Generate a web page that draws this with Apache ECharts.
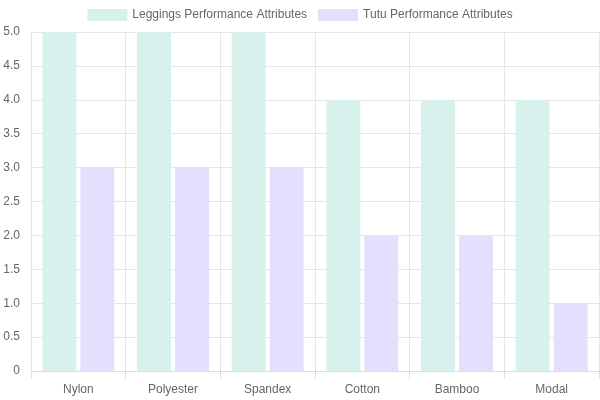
<!DOCTYPE html>
<html><head><meta charset="utf-8">
<script src="https://cdn.jsdelivr.net/npm/echarts@6/dist/echarts.min.js"></script>
<style>html,body{margin:0;padding:0;background:#fff}#c{width:600px;height:400px}</style>
</head><body><div id="c"></div>
<script>
const categories = ['Nylon','Polyester','Spandex','Cotton','Bamboo','Modal'];
const leggings = [5,5,5,4,4,4];
const tutu = [3,3,3,2,2,1];
const seriesNames = ['Leggings Performance Attributes','Tutu Performance Attributes'];

const chart = echarts.init(document.getElementById('c'), null, {renderer:'canvas'});
const font = 'Liberation Sans, Arial, Helvetica, sans-serif';
chart.setOption({
  animation:false,
  textStyle:{fontFamily:font},
  legend:{
    top:4, left:'center', itemWidth:40, itemHeight:12, itemGap:11,
    textStyle:{color:'#666', fontSize:12, fontFamily:font},
    icon:'rect',
    data:seriesNames
  },
  grid:{left:31, right:1, top:32, bottom:29, containLabel:false},
  xAxis:{
    type:'category', data:categories,
    axisLine:{show:true, lineStyle:{color:'#ddd'}},
    axisTick:{show:true, length:8, lineStyle:{color:'#ddd'}},
    splitLine:{show:true, lineStyle:{color:'#e6e6e6'}},
    axisLabel:{color:'#666', fontSize:12, margin:13, fontFamily:font}
  },
  yAxis:{
    type:'value', min:0, max:5, interval:0.5,
    axisLine:{show:false}, axisTick:{show:false},
    splitLine:{lineStyle:{color:'#e6e6e6'}},
    axisLabel:{color:'#666', fontSize:12, margin:11, fontFamily:font,
      formatter:v=> v===0 ? '0' : v.toFixed(1)}
  },
  series:[
    {name:seriesNames[0], type:'bar', data:leggings, barGap:'12%', barCategoryGap:'24%',
     itemStyle:{color:'#d8f1ec'}},
    {name:seriesNames[1], type:'bar', data:tutu, barGap:'12%', barCategoryGap:'24%',
     itemStyle:{color:'#e6defd'}}
  ]
});
</script></body></html>
